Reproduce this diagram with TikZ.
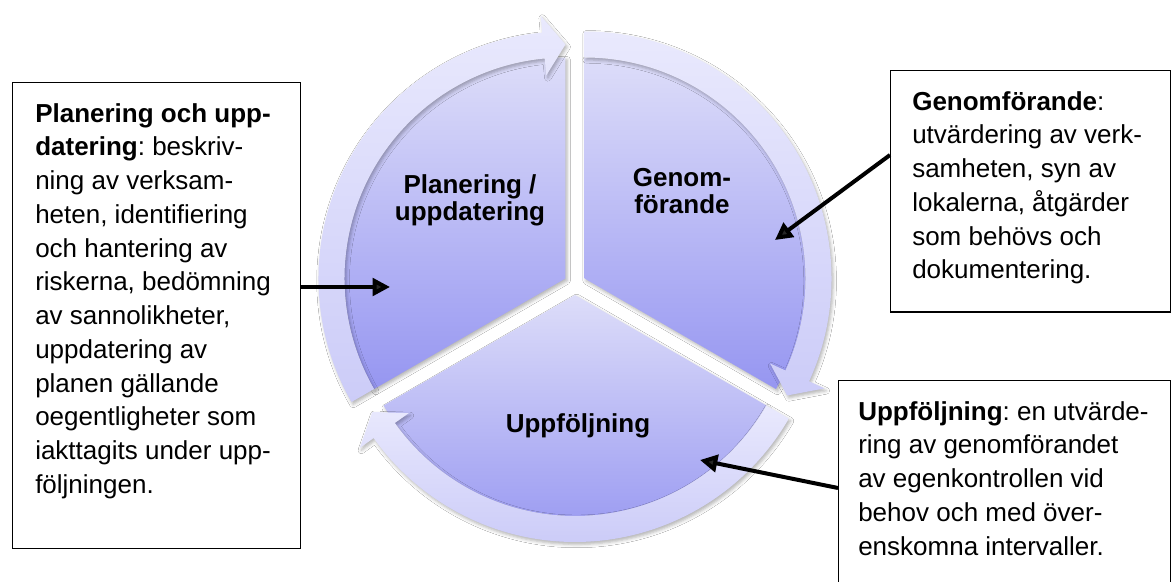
\documentclass[tikz,border=0pt]{standalone}
\usepackage{fontspec}
\setmainfont{Liberation Sans}
\frenchspacing
\usetikzlibrary{arrows.meta,calc,shadows.blur}
\definecolor{wtop}{RGB}{221,221,249}
\definecolor{wbot}{RGB}{150,150,241}
\definecolor{btop}{RGB}{233,233,253}
\definecolor{bbot}{RGB}{204,204,248}
\tikzset{
  segshadow/.style={blur shadow={shadow xshift=1.2pt, shadow yshift=-1.8pt, shadow opacity=30, shadow blur radius=2.5pt}},
  wedge/.style={top color=wtop, bottom color=wbot, draw=none, segshadow},
  band/.style={top color=btop, bottom color=bbot, draw=none, segshadow},
  infobox/.style={draw=black, line width=0.9pt, fill=white, inner sep=0pt, anchor=north west},
  boxtext/.style={anchor=north west, align=left, inner sep=0pt, font=\fontsize{19.5}{25.3}\selectfont},
  seglabel/.style={align=center, inner sep=0pt, font=\bfseries\fontsize{19.5}{20.25}\selectfont},
  pointer/.style={line width=3pt, -{Triangle[length=13pt,width=13pt]}},
}
\newcommand\segband[3]{%
  \path[band] ($(#1)+(#2:247)$) arc[start angle=#2, end angle=#3+5.4, radius=247]
    -- ($(#1)+(#3+5.4:264)$) -- ($(#1)+(#3:234)$) -- ($(#1)+(#3+5.4:204)$)
    -- ($(#1)+(#3+5.4:221)$) arc[start angle=#3+5.4, end angle=#2, radius=221] -- cycle;}
\begin{document}
\begin{tikzpicture}[x=0.75pt,y=0.75pt]
\useasboundingbox (0,0) rectangle (1172,582);
\clip (0,0) rectangle (1172,582);
\fill[white] (0,0) rectangle (1172,582);
% centre and exploded apexes
\coordinate (O) at (575,298);
\coordinate (AL) at ($(O)+(150:11)$);
\coordinate (AR) at ($(O)+(30:11)$);
\coordinate (AB) at ($(O)+(270:11)$);
% wedges
\path[wedge] (AL) -- ($(AL)+(90:221)$) arc[start angle=90, end angle=210, radius=221] -- cycle;
\path[wedge] (AR) -- ($(AR)+(-30:221)$) arc[start angle=-30, end angle=90, radius=221] -- cycle;
\path[wedge] (AB) -- ($(AB)+(210:221)$) arc[start angle=210, end angle=330, radius=221] -- cycle;
% circular arrow bands
\segband{AL}{210}{90}
\segband{AR}{90}{-30}
\segband{AB}{330}{210}
% segment labels
\node[seglabel] (lp) at (470,382) {Planering /\\uppdatering};
\node[seglabel] (lg) at (682,391) {Genom-\\förande};
\node[seglabel, anchor=base] (lu) at (578,149) {Uppföljning};
% boxes
\node[infobox, minimum width=216pt, minimum height=349.5pt] (lbox) at (12,500) {};
\node[infobox, minimum width=210pt, minimum height=181pt] (gbox) at (890,512) {};
\node[infobox, minimum width=249pt, minimum height=180pt] (ubox) at (838,202) {};
\node[boxtext] (ltext) at (35,480) {\rule{0pt}{15pt}\textbf{Planering och upp-}\\
\textbf{datering}: beskriv-\\
ning av verksam-\\
heten, identifiering\\
och hantering av\\
riskerna, bedömning\\
av sannolikheter,\\
uppdatering av\\
planen gällande\\
oegentligheter som\\
iakttagits under upp-\\
följningen.};
\node[boxtext] (gtext) at (912,492) {\rule{0pt}{15pt}\textbf{Genomförande}:\\
utvärdering av verk-\\
samheten, syn av\\
lokalerna, åtgärder\\
som behövs och\\
dokumentering.};
\node[boxtext] (utext) at (858,182) {\rule{0pt}{15pt}\textbf{Uppföljning}: en utvärde-\\
ring av genomförandet\\
av egenkontrollen vid\\
behov och med över-\\
enskomna intervaller.};
% pointers
\coordinate (tipL) at (390,295);
\coordinate (tipG) at (775,342);
\coordinate (tipU) at (700,122);
\draw[pointer] (lbox.east |- tipL) -- (tipL);
\draw[pointer] ([yshift=-63.75pt]gbox.north west) -- (tipG);
\draw[pointer] ([yshift=-81pt]ubox.north west) -- (tipU);
\end{tikzpicture}
\end{document}
